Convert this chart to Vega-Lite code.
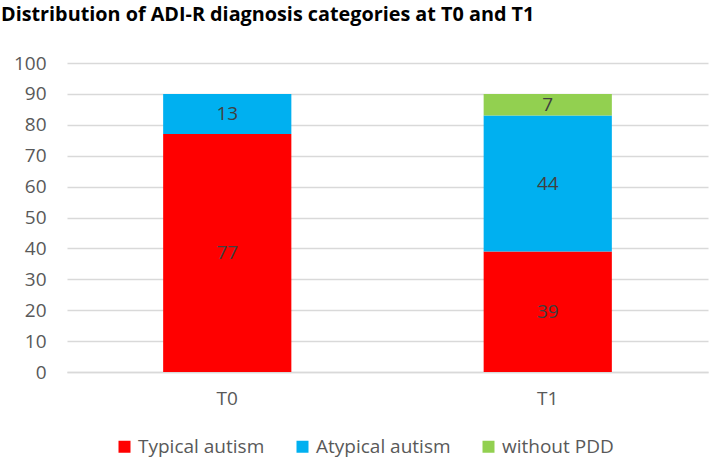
{
  "$schema": "https://vega.github.io/schema/vega-lite/v6.json",
  "width": 641,
  "height": 309,
  "autosize": {"type": "none"},
  "padding": {"left": 67, "top": 63, "right": 4, "bottom": 86},
  "background": "white",
  "title": {
    "text": "Distribution of ADI-R diagnosis categories at T0 and T1",
    "anchor": "start",
    "frame": "group",
    "dx": -66,
    "offset": 29,
    "font": "Open Sans",
    "fontSize": 19.8,
    "fontWeight": "bold",
    "color": "#000000"
  },
  "config": {
    "view": {"stroke": null},
    "font": "Open Sans"
  },
  "data": {
    "values": [
      {"time": "T0", "category": "Typical autism", "k": 1, "value": 77},
      {"time": "T0", "category": "Atypical autism", "k": 2, "value": 13},
      {"time": "T1", "category": "Typical autism", "k": 1, "value": 39},
      {"time": "T1", "category": "Atypical autism", "k": 2, "value": 44},
      {"time": "T1", "category": "without PDD", "k": 3, "value": 7}
    ]
  },
  "encoding": {
    "x": {
      "field": "time",
      "type": "nominal",
      "title": null,
      "scale": {"paddingInner": 0.6, "paddingOuter": 0.3},
      "axis": {
        "labelAngle": 0,
        "labelFont": "Open Sans",
        "labelFontSize": 19,
        "labelColor": "#595959",
        "labelPadding": 17,
        "domainColor": "#d9d9d9",
        "domainWidth": 1.5,
        "ticks": false
      }
    }
  },
  "layer": [
    {
      "mark": {"type": "bar"},
      "encoding": {
        "y": {
          "field": "value",
          "type": "quantitative",
          "stack": "zero",
          "title": null,
          "scale": {"domain": [0, 100], "nice": false},
          "axis": {
            "values": [0, 10, 20, 30, 40, 50, 60, 70, 80, 90, 100],
            "labelFont": "Open Sans",
            "labelFontSize": 19,
            "labelColor": "#595959",
            "labelPadding": 21,
            "domain": false,
            "ticks": false,
            "gridColor": "#d9d9d9",
            "gridWidth": 1.5
          }
        },
        "order": {"field": "k", "type": "quantitative", "sort": "ascending"},
        "color": {
          "field": "category",
          "type": "nominal",
          "scale": {
            "domain": ["Typical autism", "Atypical autism", "without PDD"],
            "range": ["#ff0000", "#00b0f0", "#92d050"]
          },
          "legend": {
            "title": null,
            "orient": "none",
            "legendX": 48,
            "legendY": 374,
            "direction": "horizontal",
            "symbolType": "square",
            "symbolSize": 144,
            "symbolStrokeWidth": 0,
            "labelFont": "Open Sans",
            "labelFontSize": 19,
            "labelColor": "#595959",
            "labelOffset": 4,
            "columnPadding": 28
          }
        }
      }
    },
    {
      "transform": [
        {"stack": "value", "groupby": ["time"], "sort": [{"field": "k", "order": "ascending"}], "as": ["y0", "y1"]},
        {"fold": ["y0", "y1"], "as": ["which", "pos"]},
        {"aggregate": [{"op": "mean", "field": "pos", "as": "mid"}], "groupby": ["time", "category", "value"]}
      ],
      "mark": {"type": "text", "font": "Open Sans", "fontSize": 19, "color": "#404040", "baseline": "middle"},
      "encoding": {
        "y": {
          "field": "mid",
          "type": "quantitative",
          "title": null,
          "axis": {
            "values": [0, 10, 20, 30, 40, 50, 60, 70, 80, 90, 100],
            "labelFont": "Open Sans",
            "labelFontSize": 19,
            "labelColor": "#595959",
            "labelPadding": 21,
            "domain": false,
            "ticks": false,
            "gridColor": "#d9d9d9",
            "gridWidth": 1.5
          }
        },
        "text": {"field": "value", "type": "quantitative"}
      }
    }
  ]
}
